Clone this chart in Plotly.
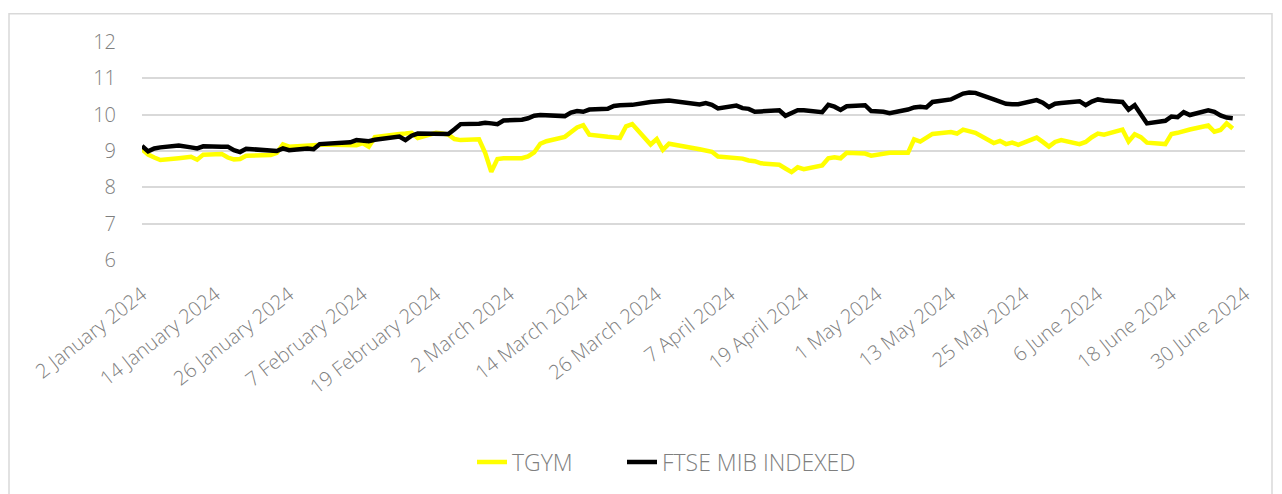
import plotly.graph_objects as go
import pandas as pd

dates = [
    "2024-01-02", "2024-01-03", "2024-01-04", "2024-01-05",
    "2024-01-08", "2024-01-09", "2024-01-10", "2024-01-11", "2024-01-12",
    "2024-01-15", "2024-01-16", "2024-01-17", "2024-01-18", "2024-01-19",
    "2024-01-22", "2024-01-23", "2024-01-24", "2024-01-25", "2024-01-26",
    "2024-01-29", "2024-01-30", "2024-01-31", "2024-02-01", "2024-02-02",
    "2024-02-05", "2024-02-06", "2024-02-07", "2024-02-08", "2024-02-09",
    "2024-02-12", "2024-02-13", "2024-02-14", "2024-02-15", "2024-02-16",
    "2024-02-19", "2024-02-20", "2024-02-21", "2024-02-22", "2024-02-23",
    "2024-02-26", "2024-02-27", "2024-02-28", "2024-02-29", "2024-03-01",
    "2024-03-04", "2024-03-05", "2024-03-06", "2024-03-07", "2024-03-08",
    "2024-03-11", "2024-03-12", "2024-03-13", "2024-03-14", "2024-03-15",
    "2024-03-18", "2024-03-19", "2024-03-20", "2024-03-21", "2024-03-22",
    "2024-03-25", "2024-03-26", "2024-03-27", "2024-03-28",
    "2024-04-02", "2024-04-03", "2024-04-04", "2024-04-05",
    "2024-04-08", "2024-04-09", "2024-04-10", "2024-04-11", "2024-04-12",
    "2024-04-15", "2024-04-16", "2024-04-17", "2024-04-18", "2024-04-19",
    "2024-04-22", "2024-04-23", "2024-04-24", "2024-04-25", "2024-04-26",
    "2024-04-29", "2024-04-30", "2024-05-02", "2024-05-03",
    "2024-05-06", "2024-05-07", "2024-05-08", "2024-05-09", "2024-05-10",
    "2024-05-13", "2024-05-14", "2024-05-15", "2024-05-16", "2024-05-17",
    "2024-05-20", "2024-05-21", "2024-05-22", "2024-05-23", "2024-05-24",
    "2024-05-27", "2024-05-28", "2024-05-29", "2024-05-30", "2024-05-31",
    "2024-06-03", "2024-06-04", "2024-06-05", "2024-06-06", "2024-06-07",
    "2024-06-10", "2024-06-11", "2024-06-12", "2024-06-13", "2024-06-14",
    "2024-06-17", "2024-06-18", "2024-06-19", "2024-06-20", "2024-06-21",
    "2024-06-24", "2024-06-25", "2024-06-26", "2024-06-27", "2024-06-28",
]

tgym = [
    9.05, 8.90, 8.82, 8.75,
    8.80, 8.82, 8.84, 8.76, 8.90,
    8.92, 8.82, 8.77, 8.78, 8.87,
    8.88, 8.89, 8.95, 9.18, 9.12,
    9.16, 9.16, 9.17, 9.18, 9.17,
    9.14, 9.16, 9.22, 9.12, 9.38,
    9.46, 9.47, 9.48, 9.50, 9.36,
    9.50, 9.48, 9.45, 9.33, 9.30,
    9.32, 8.95, 8.43, 8.78, 8.80,
    8.80, 8.85, 8.96, 9.20, 9.27,
    9.39, 9.52, 9.65, 9.71, 9.45,
    9.39, 9.36, 9.36, 9.68, 9.74,
    9.18, 9.33, 9.03, 9.20,
    9.05, 9.03, 8.98, 8.85,
    8.81, 8.79, 8.74, 8.72, 8.66,
    8.62, 8.52, 8.42, 8.55, 8.50,
    8.60, 8.80, 8.83, 8.80, 8.95,
    8.93, 8.87, 8.93, 8.95,
    8.95, 9.32, 9.26, 9.36, 9.47,
    9.52, 9.48, 9.59, 9.53, 9.50,
    9.22, 9.28, 9.19, 9.23, 9.17,
    9.37, 9.25, 9.12, 9.25, 9.30,
    9.19, 9.25, 9.38, 9.48, 9.45,
    9.59, 9.26, 9.46, 9.38, 9.23,
    9.19, 9.47, 9.50, 9.55, 9.59,
    9.70, 9.53, 9.58, 9.76, 9.62,
]

ftse_mib_indexed = [
    9.14, 8.99, 9.07, 9.10,
    9.15, 9.14, 9.10, 9.07, 9.13,
    9.12, 9.12, 9.02, 8.97, 9.06,
    9.03, 9.01, 9.00, 9.07, 9.02,
    9.07, 9.05, 9.19, 9.20, 9.20,
    9.24, 9.30, 9.28, 9.27, 9.31,
    9.40, 9.40, 9.30, 9.42, 9.48,
    9.47, 9.47, 9.47, 9.60, 9.74,
    9.75, 9.78, 9.76, 9.74, 9.84,
    9.86, 9.90, 9.97, 9.99, 9.99,
    9.96, 10.06, 10.10, 10.08, 10.14,
    10.16, 10.24, 10.26, 10.26, 10.27,
    10.35, 10.37, 10.40, 10.39,
    10.28, 10.32, 10.27, 10.17,
    10.25, 10.18, 10.16, 10.08, 10.09,
    10.12, 9.97, 10.05, 10.12, 10.12,
    10.07, 10.27, 10.22, 10.13, 10.23,
    10.26, 10.10, 10.08, 10.04,
    10.14, 10.20, 10.22, 10.20, 10.35,
    10.42, 10.50, 10.58, 10.61, 10.60,
    10.42, 10.36, 10.30, 10.29, 10.29,
    10.40, 10.33, 10.21, 10.30, 10.32,
    10.37, 10.26, 10.36, 10.42, 10.39,
    10.35, 10.14, 10.26, 10.00, 9.76,
    9.83, 9.95, 9.93, 10.07, 9.99,
    10.12, 10.08, 9.98, 9.92, 9.90,
]

tick_dates = [
    "2024-01-02", "2024-01-14", "2024-01-26", "2024-02-07", "2024-02-19",
    "2024-03-02", "2024-03-14", "2024-03-26", "2024-04-07", "2024-04-19",
    "2024-05-01", "2024-05-13", "2024-05-25", "2024-06-06", "2024-06-18",
    "2024-06-30",
]
tick_labels = [
    "2 January 2024", "14 January 2024", "26 January 2024", "7 February 2024",
    "19 February 2024", "2 March 2024", "14 March 2024", "26 March 2024",
    "7 April 2024", "19 April 2024", "1 May 2024", "13 May 2024",
    "25 May 2024", "6 June 2024", "18 June 2024", "30 June 2024",
]

y_ticks = [6, 7, 8, 9, 10, 11, 12]

FONT = "Open Sans"
GRAY = "#7f7f7f"
FS = 20

fig = go.Figure()
fig.add_trace(go.Scatter(
    x=pd.to_datetime(dates), y=tgym, name="TGYM", mode="lines",
    line=dict(color="#ffff00", width=4.5), legend="legend",
))
fig.add_trace(go.Scatter(
    x=pd.to_datetime(dates), y=ftse_mib_indexed, name="FTSE MIB INDEXED", mode="lines",
    line=dict(color="#000000", width=4.5), legend="legend2",
))

# page offset of the figure inside the browser page
OFF = 8
W, H = 1282, 494
# plot area in screen pixels
SL, SR, ST, SB = 142, 1245, 41.5, 260.5
L = SL - OFF
T = ST - OFF
R = W - (SR - OFF)
B = H - (SB - OFF)
pw = W - L - R
ph = H - T - B

def px_x(p):
    return (p - SL) / pw

def px_y(p):
    return (SB - p) / ph

fig.add_shape(type="rect", xref="paper", yref="paper",
              x0=px_x(9), x1=px_x(1272), y0=px_y(13), y1=px_y(500),
              line=dict(color="#d9d9d9", width=1.5), fillcolor="rgba(0,0,0,0)",
              layer="below")

legend_style = dict(orientation="h", xanchor="left", yanchor="top", y=px_y(442),
                    font=dict(family=FONT, size=23, color=GRAY, weight=300),
                    bgcolor="rgba(0,0,0,0)")

fig.update_layout(
    width=W, height=H,
    margin=dict(l=L, r=R, t=T, b=B, pad=0, autoexpand=False),
    paper_bgcolor="white", plot_bgcolor="white",
    font=dict(family=FONT, color=GRAY, size=FS, weight=300),
    showlegend=True,
    legend=dict(x=px_x(472), **legend_style),
    legend2=dict(x=px_x(622), **legend_style),
)
fig.update_xaxes(
    type="date", range=[pd.Timestamp("2024-01-02"), pd.Timestamp("2024-06-30")],
    tickvals=pd.to_datetime(tick_dates), ticktext=tick_labels, tickangle=-38,
    showgrid=False, zeroline=False, showline=False, ticks="", automargin=False,
    ticklabelstandoff=18,
    tickfont=dict(family=FONT, size=FS, color=GRAY, weight=300),
)
fig.update_yaxes(
    range=[6, 12], tickvals=y_ticks, showgrid=True, gridcolor="#d9d9d9", gridwidth=1.5,
    zeroline=False, showline=False, ticks="", ticklabelstandoff=25, automargin=False,
    tickfont=dict(family=FONT, size=FS, color=GRAY, weight=300),
)

fig.write_html("out.html")
